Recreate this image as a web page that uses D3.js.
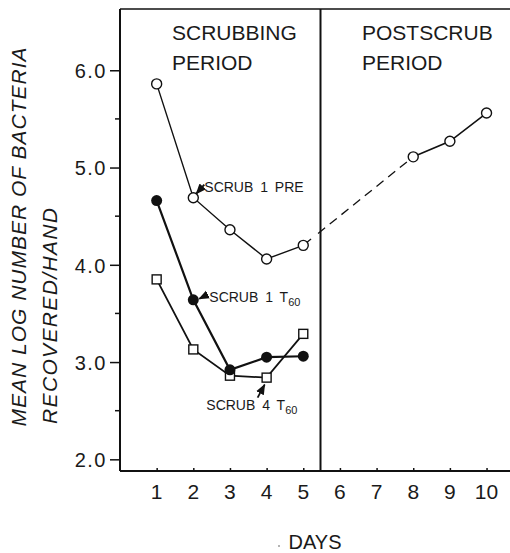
<!DOCTYPE html>
<meta charset="utf-8">
<style>
body { margin: 0; background: #fff; }
svg text { font-family: 'Liberation Sans', Arial, sans-serif; fill: #1a1a1a; }
</style>
<body>
<svg id="chart"></svg>
<script src="https://d3js.org/d3.v7.min.js"></script>
<script>
// data
var scrubDays = [1, 2, 3, 4, 5];
var postDays = [8, 9, 10];
var scrub1Pre = [5.86, 4.69, 4.36, 4.06, 4.20];
var postScrub = [5.11, 5.27, 5.56];
var scrub1T60 = [4.66, 3.64, 2.92, 3.05, 3.06];
var scrub4T60 = [3.85, 3.13, 2.86, 2.84, 3.29];
var yTicks = [2, 3, 4, 5, 6];
var yMinor = [2.5, 3.5, 4.5, 5.5];
var xTicks = [1, 2, 3, 4, 5, 6, 7, 8, 9, 10];
var divider = 5.47;

var margin = {top: 9, right: 0, bottom: 82, left: 120},
    width = 510 - margin.left - margin.right,
    height = 553 - margin.top - margin.bottom;

var x = d3.scaleLinear().domain([0, 10.64]).range([0, width]);
var y = d3.scaleLinear().domain([1.88, 6.63]).range([height, 0]);

var root = d3.select("#chart").attr("width", 510).attr("height", 553);
var svg = root.append("g")
    .attr("transform", "translate(" + margin.left + "," + margin.top + ")");

root.append("defs").append("marker")
    .attr("id", "arrow")
    .attr("viewBox", "0 0 10 10")
    .attr("refX", 9).attr("refY", 5)
    .attr("markerWidth", 6).attr("markerHeight", 6)
    .attr("orient", "auto")
  .append("path")
    .attr("d", "M0,1 L10,5 L0,9 Z")
    .attr("fill", "#111");

// frame
svg.append("line").attr("x1", 0).attr("x2", 0).attr("y1", 0).attr("y2", height)
    .attr("stroke", "#111").attr("stroke-width", 2);
svg.append("line").attr("x1", 0).attr("x2", width).attr("y1", 0).attr("y2", 0)
    .attr("stroke", "#111").attr("stroke-width", 1.5);
svg.append("line").attr("x1", 0).attr("x2", width).attr("y1", height).attr("y2", height)
    .attr("stroke", "#111").attr("stroke-width", 2);
svg.append("line").attr("x1", x(divider)).attr("x2", x(divider)).attr("y1", 0).attr("y2", height)
    .attr("stroke", "#111").attr("stroke-width", 2);

// y axis
var yAxis = d3.axisLeft(y).tickValues(yTicks).tickSize(10).tickPadding(3)
    .tickFormat(d3.format(".1f"));
var gy = svg.append("g").call(yAxis);
gy.select(".domain").remove();
gy.selectAll("line").attr("stroke", "#111").attr("stroke-width", 1.5);
gy.selectAll("text").attr("font-size", "20px").attr("letter-spacing", "1.5px")
    .attr("dy", "0.36em").style("font-family", "'Liberation Sans', Arial, sans-serif");

svg.selectAll(".ymin").data(yMinor).enter().append("line")
    .attr("x1", -5).attr("x2", 0)
    .attr("y1", d => y(d)).attr("y2", d => y(d))
    .attr("stroke", "#111").attr("stroke-width", 1.5);

// x axis: small ticks inside the frame
var xAxis = d3.axisTop(x).tickValues(xTicks).tickSize(3).tickFormat("");
var gx = svg.append("g").attr("transform", "translate(0," + height + ")").call(xAxis);
gx.select(".domain").remove();
gx.selectAll("line").attr("stroke", "#111").attr("stroke-width", 1.5);

svg.selectAll(".xlab").data(xTicks).enter().append("text")
    .attr("x", d => x(d)).attr("y", height + 28)
    .attr("text-anchor", "middle").attr("font-size", "21px")
    .text(d => d);

// titles
function twoLines(tx, l1, l2) {
  svg.append("text").attr("x", tx).attr("y", 31).attr("font-size", "21px").text(l1);
  svg.append("text").attr("x", tx).attr("y", 61).attr("font-size", "21px").text(l2);
}
twoLines(52, "SCRUBBING", "PERIOD");
twoLines(242, "POSTSCRUB", "PERIOD");

root.append("text").attr("x", 315).attr("y", 549).attr("text-anchor", "middle")
    .attr("font-size", "20px").text("DAYS");
root.append("circle").attr("cx", 279).attr("cy", 546).attr("r", 0.8).attr("fill", "#555");

// y label
root.append("text")
    .attr("transform", "translate(26,237) rotate(-90)")
    .attr("text-anchor", "middle").attr("font-size", "21px").attr("font-style", "italic")
    .attr("textLength", 379).attr("lengthAdjust", "spacing")
    .text("MEAN LOG NUMBER OF BACTERIA");
root.append("text")
    .attr("transform", "translate(57,316) rotate(-90)")
    .attr("text-anchor", "middle").attr("font-size", "21px").attr("font-style", "italic")
    .attr("textLength", 216).attr("lengthAdjust", "spacing")
    .text("RECOVERED/HAND");

// lines
var line = d3.line().x(d => x(d[0])).y(d => y(d[1]));
function pairs(xs, ys) { return xs.map((d, i) => [d, ys[i]]); }

svg.append("path").datum(pairs(scrubDays, scrub1Pre)).attr("d", line)
    .attr("fill", "none").attr("stroke", "#111").attr("stroke-width", 1.4);
svg.append("path").datum(pairs(postDays, postScrub)).attr("d", line)
    .attr("fill", "none").attr("stroke", "#111").attr("stroke-width", 1.6);
svg.append("path").datum(pairs(scrubDays, scrub4T60)).attr("d", line)
    .attr("fill", "none").attr("stroke", "#111").attr("stroke-width", 1.8);
svg.append("path").datum(pairs(scrubDays, scrub1T60)).attr("d", line)
    .attr("fill", "none").attr("stroke", "#111").attr("stroke-width", 2.2);

// connector day 5 -> day 8: short solid part, then dashes
var p0 = [x(5), y(scrub1Pre[4])], p1 = [x(8), y(postScrub[0])];
var len = Math.hypot(p1[0] - p0[0], p1[1] - p0[1]);
var dash = [10, 9];
for (var s = 19; s < len; s += 15) dash.push(9, 6);
svg.append("line").attr("x1", p0[0]).attr("y1", p0[1]).attr("x2", p1[0]).attr("y2", p1[1])
    .attr("stroke", "#111").attr("stroke-width", 1.3)
    .attr("stroke-dasharray", dash.join(" "));

// markers
svg.selectAll(".sq").data(pairs(scrubDays, scrub4T60)).enter().append("rect")
    .attr("x", d => x(d[0]) - 4.5).attr("y", d => y(d[1]) - 4.5)
    .attr("width", 9).attr("height", 9)
    .attr("fill", "#fff").attr("stroke", "#111").attr("stroke-width", 1.4);
svg.selectAll(".fc").data(pairs(scrubDays, scrub1T60)).enter().append("circle")
    .attr("cx", d => x(d[0])).attr("cy", d => y(d[1])).attr("r", 5.5)
    .attr("fill", "#111");
svg.selectAll(".oc").data(pairs(scrubDays, scrub1Pre).concat(pairs(postDays, postScrub)))
  .enter().append("circle")
    .attr("cx", d => x(d[0])).attr("cy", d => y(d[1])).attr("r", 5)
    .attr("fill", "#fff").attr("stroke", "#111").attr("stroke-width", 1.4);

// annotations
function arrow(x1, y1, x2, y2) {
  svg.append("line").attr("x1", x1).attr("y1", y1).attr("x2", x2).attr("y2", y2)
      .attr("stroke", "#111").attr("stroke-width", 1.8).attr("marker-end", "url(#arrow)");
}
function label(tx, ty, main, sub) {
  var t = svg.append("text").attr("x", tx).attr("y", ty).attr("font-size", "14px")
      .attr("word-spacing", "3px").text(main);
  if (sub) t.append("tspan").attr("font-size", "11px").attr("dy", 4).text(sub);
}

label(x(2) + 11, y(scrub1Pre[1]) - 6, "SCRUB 1 PRE");
arrow(x(2) + 11, y(scrub1Pre[1]) - 13, x(2) + 3, y(scrub1Pre[1]) - 4);

label(x(2) + 16, y(scrub1T60[1]) + 2, "SCRUB 1 T", "60");
arrow(x(2) + 14, y(scrub1T60[1]) - 5, x(2) + 6, y(scrub1T60[1]) - 1);

label(x(2) + 13, y(scrub4T60[3]) + 32, "SCRUB  4 T", "60");
arrow(x(4) - 9, y(scrub4T60[3]) + 20, x(4) - 2, y(scrub4T60[3]) + 7);
</script>
</body>
